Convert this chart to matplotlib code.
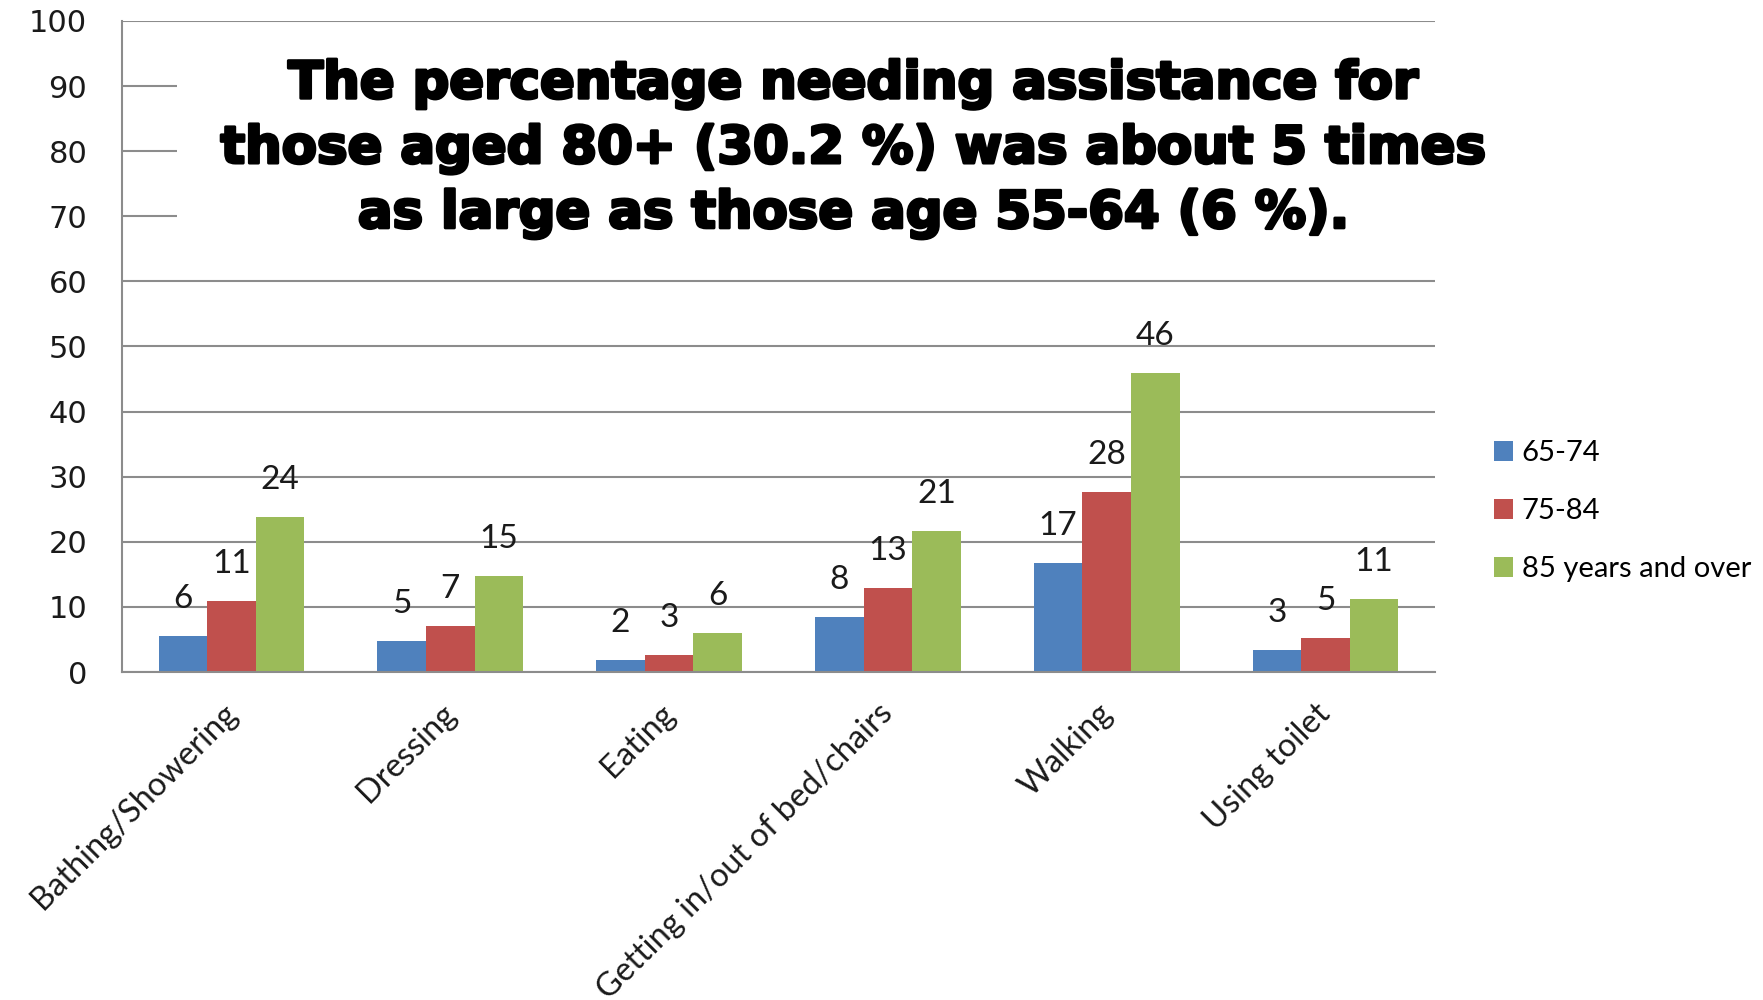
import numpy as np
import matplotlib
matplotlib.use('Agg')
import matplotlib.pyplot as plt
import matplotlib.patheffects as pe
from matplotlib.patches import Rectangle
from matplotlib.transforms import ScaledTranslation

# Data
categories = ['Bathing/Showering', 'Dressing', 'Eating',
              'Getting in/out of bed/chairs', 'Walking', 'Using toilet']
series_names = ['65-74', '75-84', '85 years and over']
vals_65_74 = [5.5, 4.7, 1.9, 8.4, 16.7, 3.4]
vals_75_84 = [10.9, 7.1, 2.6, 12.9, 27.6, 5.2]
vals_85_up = [23.8, 14.7, 6.0, 21.6, 46.0, 11.2]
labels_65_74 = [6, 5, 2, 8, 17, 3]
labels_75_84 = [11, 7, 3, 13, 28, 5]
labels_85_up = [24, 15, 6, 21, 46, 11]
yticks = [0, 10, 20, 30, 40, 50, 60, 70, 80, 90, 100]
title = ('The percentage needing assistance for\n'
         'those aged 80+ (30.2 %) was about 5 times\n'
         'as large as those age 55-64 (6 %).')

colors = ['#4F81BD', '#C0504D', '#9BBB59']
grid_col = '#8c8c8c'
calibri = ['Lato', 'DejaVu Sans']

fig = plt.figure(figsize=(17.63, 10), dpi=100)
ax = fig.add_axes([0.0692, 0.328, 0.7447, 0.651])

x = np.arange(len(categories))
w = 0.222
all_vals = [vals_65_74, vals_75_84, vals_85_up]
all_labels = [labels_65_74, labels_75_84, labels_85_up]
for i, (vals, labs) in enumerate(zip(all_vals, all_labels)):
    pos = x + (i - 1) * w
    ax.bar(pos, vals, width=w, color=colors[i], label=series_names[i],
           edgecolor='none', zorder=2)
    for px, v, lab in zip(pos, vals, labs):
        ax.annotate(str(lab), (px, v), xytext=(0, 37), textcoords='offset pixels',
                    ha='center', va='center', fontsize=24, family=calibri,
                    color='#1a1a1a', zorder=3)

ax.set_xlim(-0.5, len(categories) - 0.5)
ax.set_ylim(0, 100)
ax.set_yticks(yticks)
ax.set_yticklabels([str(t) for t in yticks], family='DejaVu Sans', fontsize=22,
                   color='#1a1a1a')
ax.yaxis.grid(True, color=grid_col, linewidth=1.5, zorder=0)
ax.set_axisbelow(True)
ax.tick_params(axis='y', length=0, pad=25)
ax.tick_params(axis='x', length=0, pad=19)
ax.set_xticks(x)
ax.set_xticklabels(categories, rotation=45, ha='right', va='top',
                   rotation_mode='anchor', fontsize=23.5, family=calibri,
                   color='#1a1a1a')
shift = ScaledTranslation(-0.1, 0, fig.dpi_scale_trans)
for lbl in ax.get_xticklabels():
    lbl.set_transform(lbl.get_transform() + shift)
for s in ['top', 'right']:
    ax.spines[s].set_visible(False)
for s in ['left', 'bottom']:
    ax.spines[s].set_color(grid_col)
    ax.spines[s].set_linewidth(1.5)

# white box behind the title hides the upper gridlines
ax.add_patch(Rectangle((-0.249, 65), 6.0, 31, facecolor='white',
                       edgecolor='none', zorder=1))

fig.text(0.484, 0.851, title, ha='center', va='center', fontsize=37,
         fontweight='heavy', family='DejaVu Sans', linespacing=1.38,
         multialignment='center', zorder=5,
         path_effects=[pe.withStroke(linewidth=2.2, foreground='black')])

leg = ax.legend(loc='center left', bbox_to_anchor=(1.025, 0.247), frameon=False,
                prop={'family': calibri, 'size': 21}, handlelength=0.65,
                handleheight=0.65, handletextpad=0.3, labelspacing=1.1)

fig.savefig('out.png', dpi=100)
